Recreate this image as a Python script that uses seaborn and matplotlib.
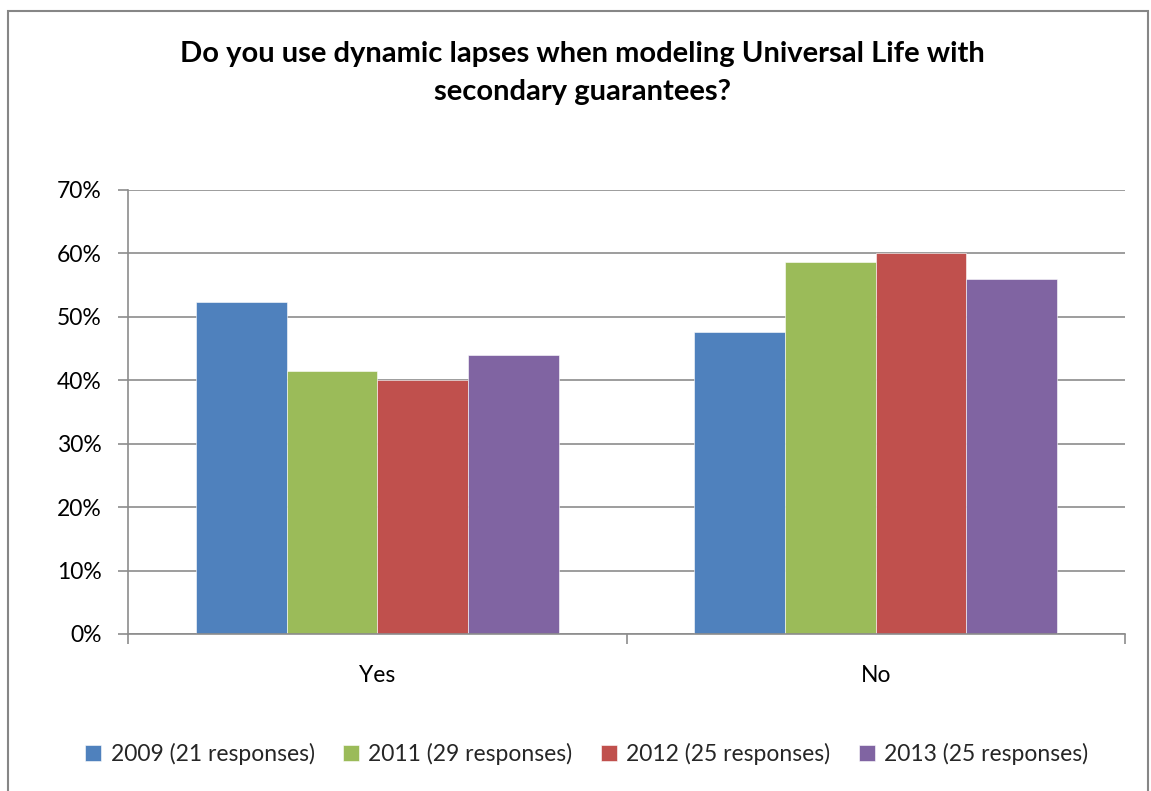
import matplotlib
matplotlib.use("Agg")
import matplotlib.pyplot as plt
from matplotlib.patches import Rectangle
from matplotlib.ticker import FixedLocator, PercentFormatter
import pandas as pd
import seaborn as sns

categories = ["Yes", "No"]
series_names = [
    "2009 (21 responses)",
    "2011 (29 responses)",
    "2012 (25 responses)",
    "2013 (25 responses)",
]
values_2009 = [52.4, 47.6]
values_2011 = [41.4, 58.6]
values_2012 = [40.0, 60.0]
values_2013 = [44.0, 56.0]
y_ticks = [0, 10, 20, 30, 40, 50, 60, 70]

colors = ["#4F81BD", "#9BBB59", "#C0504D", "#8064A2"]

rows = []
for name, vals in zip(series_names, [values_2009, values_2011, values_2012, values_2013]):
    for cat, v in zip(categories, vals):
        rows.append({"answer": cat, "share": v, "year": name})
df = pd.DataFrame(rows)

sns.set_theme(style="white")
plt.rcParams["font.family"] = ["Lato", "DejaVu Sans"]

fig = plt.figure(figsize=(11.51, 7.91), dpi=100)
ax = fig.add_axes([128 / 1151, 1 - 634 / 791, (1125 - 128) / 1151, (634 - 190) / 791])

sns.barplot(data=df, x="answer", y="share", hue="year", hue_order=series_names,
            palette=colors, width=0.728, gap=0, saturation=1, ax=ax,
            edgecolor="white", linewidth=0.4, legend=True)

grid_c = "#8C8C8C"
label_size = 16.5
ax.set_ylim(0, 70)
ax.set_xlim(-0.5, 1.5)
ax.set_yticks(y_ticks)
ax.yaxis.set_major_formatter(PercentFormatter(decimals=0))
ax.yaxis.grid(True, color=grid_c, linewidth=1.2)
ax.set_axisbelow(True)
for side in ["top", "right"]:
    ax.spines[side].set_visible(False)
ax.spines["left"].set_color(grid_c)
ax.spines["bottom"].set_color(grid_c)
ax.spines["left"].set_linewidth(1.2)
ax.spines["bottom"].set_linewidth(1.2)
ax.tick_params(axis="y", length=7, width=1.2, color=grid_c, labelsize=label_size, pad=12,
               left=True, labelcolor="black")
ax.tick_params(axis="x", which="major", length=0, labelsize=label_size, pad=22, labelcolor="black")
ax.xaxis.set_minor_locator(FixedLocator([-0.5, 0.5, 1.5]))
ax.tick_params(axis="x", which="minor", length=7, width=1.2, color=grid_c, bottom=True)
ax.set_xlabel("")
ax.set_ylabel("")

handles, labels = ax.get_legend_handles_labels()
ax.get_legend().remove()
fig.legend(handles, labels, loc="center", bbox_to_anchor=(587 / 1151, 1 - 754 / 791),
           ncol=4, frameon=False, fontsize=label_size, handlelength=0.7, handleheight=0.7,
           handletextpad=0.4, columnspacing=1.25)

fig.text(582 / 1151, 1 - 73 / 791,
         "Do you use dynamic lapses when modeling Universal Life with\nsecondary guarantees?",
         ha="center", va="center", fontsize=21, fontweight="bold", linespacing=1.55,
         color="black")

fig.patches.append(Rectangle((8 / 1151, -0.02), (1148 - 8) / 1151, 1.02 - 11 / 791,
                             transform=fig.transFigure, fill=False,
                             edgecolor="#868686", linewidth=1.5))

fig.savefig("out.png", dpi=100)
